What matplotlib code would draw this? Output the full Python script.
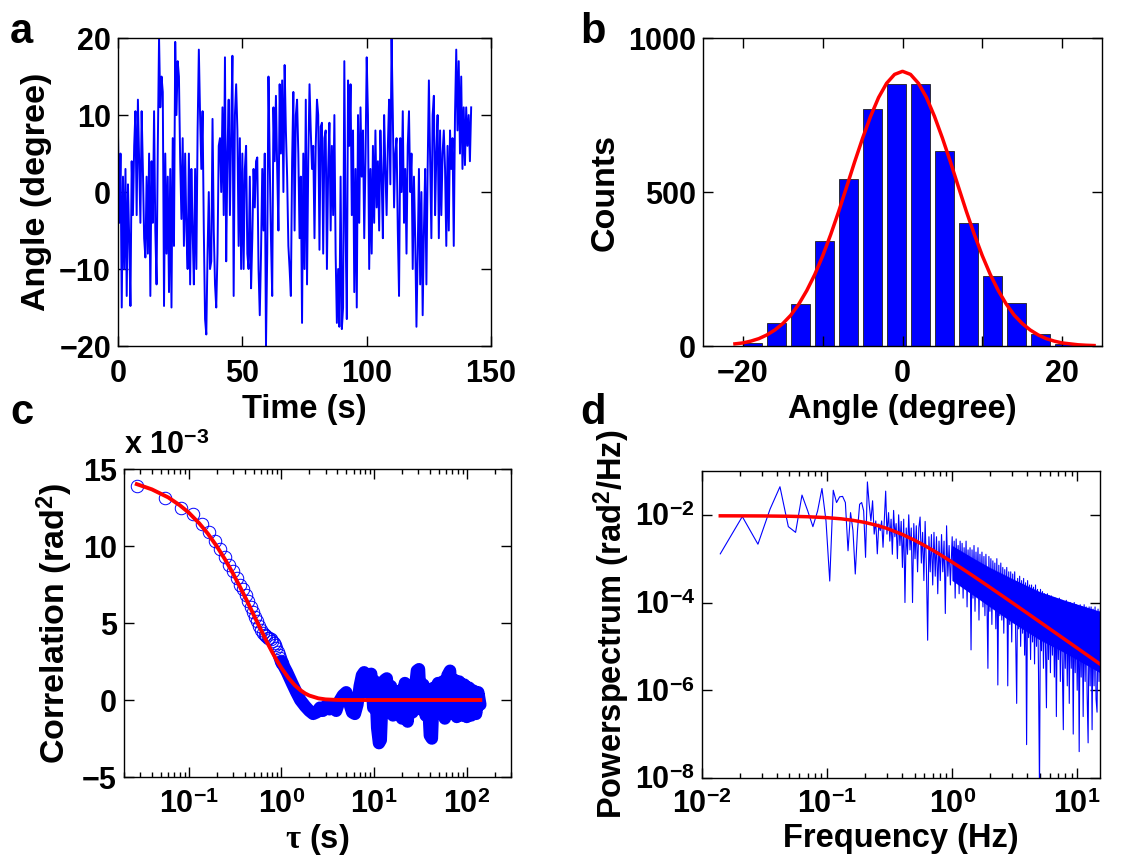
import numpy as np
import matplotlib
matplotlib.use('Agg')
import matplotlib.pyplot as plt
from matplotlib.ticker import NullLocator, NullFormatter, LogLocator

plt.rcParams['font.family'] = ['Liberation Sans', 'DejaVu Sans']
plt.rcParams['font.weight'] = 'bold'
plt.rcParams['axes.labelweight'] = 'bold'
plt.rcParams['mathtext.fontset'] = 'custom'
plt.rcParams['mathtext.rm'] = 'Liberation Sans:bold'
plt.rcParams['mathtext.bf'] = 'Liberation Sans:bold'
plt.rcParams['mathtext.it'] = 'Liberation Serif'

blue = '#0000ff'
red = '#ff0000'
tick_size = 22
xlabel_size = 23.5
ylabel_size = 24.5
letter_size = 30

# ---- panel a: angle trace (one reading every 0.5 s) ----
angle_step = 0.5
angle_trace = [
    7.5, -4, 5, -15, 2, -10, 3, -13.5, 1, -6,
    -14.8, 4, -3, 6, 10.5, -3, 12, 4, -4, 10.5,
    3, -6, -8.5, 2, -8, 5, -13.5, 4, -4, 10.5,
    -5, -12, 6, 20, 11, 15, 13, -14.8, 5, -8,
    2, -13, 3, -15, 7, -7, 19.5, 10, 17, 15,
    4, -3.5, 7, -7, 5, -5, -10, 5, -12, 3,
    -5, -12, 3, -10, 8, 18.5, 10, 3, 10.5, -5,
    -16.5, -18.5, -8, 0, -10, -9, 9.5, -5, -12, -15,
    -8, 6, 7, 0, 11, -3, 17.5, -9, 5, 12,
    -3, 8, 17.7, -13.5, 10, 14, 8, -7, 7, -10,
    5, -10, 3, 6, -8, -10, 2, -12.5, -6, 3,
    -2, 4, 4.5, -10, -16, -8, 3, -5, 5, -20,
    -8, 15, 4, -6, -13.5, 11, 4, 12.5, 3, -5,
    14, 5, 14.5, 0, 16.5, 8, 2, -7, -10, -13.5,
    4, 13, -5, 10, 12, 5, -6, 2, -17, 5,
    -10, 12, -12, 4, 14, 8, 3, 6, -6, 6,
    12, 10, -7.5, 8.5, 9, -8, 7, 8, -10, 3,
    9, -5, 6, -3, 10, -8, -17, -10, -17.5, 2,
    -17.8, -15, 17, -5, -16.5, 14.5, 6, 14, -3, 8,
    -13, 3, -15, 10, -4, 11, 2, 8, -6, 4,
    17.5, 10, -10, 3, -8, 6, -4, 8, -2, 4,
    -5, 8, 2, -6, 10, 3, -3, 6, 12, 1,
    20, 10, -2, 5, 7, -5, -13.5, 7, 0, 10.5,
    -4, 3, -8, 6, 10.5, 0, 5, -10, 2, -6,
    -17.5, -8, 3, -12, 0, -16, -5, 3, -12, 3,
    14.5, 4, -6, 10, 12.5, -3, 5, 10, -6, 8,
    -3, 5, 8, 3, -7, 6, -5, 8, 3, 7,
    -7, 10, 18.5, 8, 17, 5, 15, 3, 11, 3.5,
    11, 6, 10, 4, 11,
]

# ---- panel b: histogram + gaussian fit ----
bin_centers = [-18.75, -15.75, -12.75, -9.75, -6.75, -3.75, -0.75,
               2.25, 5.25, 8.25, 11.25, 14.25, 17.25, 20.25]
bin_counts = [11, 76, 138, 340, 541, 770, 851, 851, 634, 401, 228, 139, 40, 5]
gauss_x = list(range(-21, 25))
gauss_y = [7, 10, 16, 24, 36, 52, 73, 100, 136, 180, 232, 293, 362, 437, 517,
           598, 675, 746, 807, 853, 882, 892, 882, 853, 807, 746, 675, 598,
           517, 437, 362, 293, 232, 180, 136, 100, 73, 52, 36, 24, 16, 10, 7,
           4, 2.5, 1.5]

# ---- panel c: autocorrelation (units of 1e-3 rad^2) ----
tau_c = [0.0275, 0.055, 0.0825, 0.11, 0.1375, 0.165, 0.1925, 0.22, 0.2475,
         0.275, 0.3025, 0.33, 0.3575, 0.385, 0.4125, 0.44, 0.4675, 0.495,
         0.5225, 0.55, 0.5775, 0.605, 0.6325, 0.66, 0.6875, 0.715, 0.7425,
         0.77, 0.7975, 0.825, 0.8525, 0.88, 0.9075, 0.935, 0.9625, 0.99, 1.0175]
corr_c = [13.9, 13.15, 12.5, 12.05, 11.45, 10.9, 10.3, 9.8, 9.3,
          8.8, 8.4, 7.95, 7.5, 7.2, 6.8, 6.4, 6.05, 5.7,
          5.4, 5.1, 4.8, 4.55, 4.35, 4.25, 4.15, 4.05, 4.0,
          3.95, 3.85, 3.7, 3.55, 3.35, 3.15, 2.95, 2.75, 2.55, 2.4]
tau_blob = [1.0, 1.15, 1.3, 1.45, 1.6, 1.8, 2.0, 2.2, 2.4, 2.6, 2.8, 3.0, 3.3,
            3.6, 3.9, 4.2, 4.6, 5.0, 5.4, 5.8, 6.2, 6.6, 7.0, 7.4, 7.8, 8.3,
            8.8, 9.3, 9.8, 10.3, 10.8, 11.3, 11.8, 12.4, 13.0, 13.7, 14.4,
            15.2, 16.0, 17.0, 18.0, 19.0, 20.0, 21.5, 23.0, 24.5, 26.0, 27.5,
            29.0, 30.5, 32.0, 34.0, 36.0, 38.0, 40.0, 42.0, 44.0, 46.0, 49.0,
            52.0, 55.0, 58.0, 62.0, 66.0, 70.0, 74.0, 78.0, 83.0, 88.0, 94.0,
            100.0, 106.0, 112.0, 119.0, 126.0, 133.0, 140.0]
corr_blob = [2.5, 1.8, 1.1, 0.5, 0.0, -0.4, -0.7, -0.9, -0.8, -0.5, -0.7, -0.4,
             -0.6, -0.3, -0.7, -0.1, 0.3, 0.5, -0.2, -0.8, -0.9, -0.3, 0.9, 1.6,
             1.8, 0.5, 1.6, 1.7, -0.5, 1.2, -1.8, -2.8, -2.6, 0.8, 1.3, 1.4,
             -0.5, 0.9, -1.0, 0.2, -0.9, 0.6, -1.2, 1.1, -1.4, 0.9, -0.8, 0.6,
             1.9, 2.0, -0.6, 1.0, -1.0, 0.4, -2.3, -2.5, 0.8, -0.8, 1.1, -0.9,
             1.2, -1.2, 1.6, 1.9, -0.9, 1.3, -1.1, 1.2, -1.0, 1.0, -1.1, 0.8,
             -1.0, 0.6, -0.9, 0.5, -0.3]
tau_fit = [0.0275, 0.04, 0.06, 0.08, 0.1, 0.13, 0.16, 0.2, 0.25, 0.3, 0.35,
           0.4, 0.45, 0.5, 0.6, 0.7, 0.8, 0.9, 1.0, 1.2, 1.4, 1.6, 1.8, 2.0,
           2.5, 3.0, 4.0, 5.0, 10.0, 140.0]
corr_fit = [14.02, 13.68, 13.16, 12.65, 12.17, 11.47, 10.82, 10.0, 9.07, 8.22,
            7.45, 6.76, 6.13, 5.55, 4.57, 3.75, 3.08, 2.53, 2.08, 1.41, 0.95,
            0.64, 0.43, 0.29, 0.11, 0.04, 0.006, 0.0, 0.0, 0.0]

# ---- panel d: power spectrum (log10 of rad^2/Hz) ----
df = 0.007
psd_low_log = [-2.89, -2.04, -2.67, -1.87, -1.36, -2.27, -2.40, -1.55, -1.91, -2.27,
               -1.91, -1.40, -2.14, -3.51, -1.44, -1.72, -1.59, -1.58, -1.72, -2.82,
               -1.95, -2.36, -3.35, -2.36, -1.76, -1.72, -1.91, -2.97, -1.25, -1.76,
               -2.14, -1.68, -2.44, -2.14, -2.89, -2.21, -2.36, -2.14, -2.74, -2.10,
               -1.46, -2.44]
psd_mid_log = [-1.95, -2.6, -2.1, -2.9, -1.9, -2.5, -2.2, -3.0, -2.0, -2.7,
               -2.15, -3.2, -2.1, -4.0, -2.3, -2.9, -2.0, -2.8, -2.3, -4.0,
               -2.2, -3.0, -2.25, -3.3, -2.3, -2.05, -3.1, -2.4, -3.5, -2.15,
               -3.2, -4.86, -2.5, -3.3, -2.45, -3.6, -2.4, -3.4, -2.5, -3.8,
               -2.6, -3.5, -2.45, -3.3, -2.6, -4.25, -2.25, -3.4, -2.7, -3.6]
psd_high_log = [-2.5, -3.5, -2.6, -3.9, -2.55, -3.4, -2.7, -3.8, -2.6, -3.6,
                -2.65, -3.9, -2.75, -3.5, -2.6, -4.1, -2.8, -3.7, -2.75, -5.08,
                -2.8, -3.9, -2.7, -4.2, -2.85, -3.8, -2.75, -4.4, -2.9, -3.9,
                -2.85, -4.1, -2.95, -4.3, -2.9, -3.9, -5.5, -2.95, -4.2, -3.0,
                -4.5, -3.05, -4.0, -3.1, -4.6, -3.0, -5.88, -3.15, -4.3, -3.1,
                -4.4, -3.2, -4.7, -3.25, -4.2, -3.2, -5.9, -3.3, -4.5, -3.3,
                -4.9, -3.35, -4.4, -3.3, -4.8, -6.3, -3.45, -4.6, -3.4, -5.0,
                -3.5, -4.7, -3.45, -5.2, -3.55, -7.24, -3.5, -4.8, -3.6, -5.3,
                -3.6, -4.9, -3.65, -5.4, -3.6, -5.0, -3.7, -5.6, -8.3, -3.7,
                -5.1, -3.75, -5.5, -3.8, -5.0, -6.4, -3.8, -5.3, -3.85, -5.6,
                -3.85, -5.2, -3.9, -5.7, -3.9, -6.6, -3.95, -5.3, -3.9, -5.8,
                -3.95, -5.4, -6.9, -4.0, -5.5, -3.95, -5.9, -4.0, -6.3, -4.0,
                -5.5, -4.05, -7.0, -4.0, -5.6, -4.05, -6.0, -4.1, -7.4, -4.05,
                -5.7, -4.1, -6.6, -4.05, -5.8, -4.1, -6.1, -7.2, -4.1, -5.9,
                -4.1, -6.9, -4.15, -5.9, -4.1, -6.2, -6.5, -4.15, -5.8, -4.2]
band_f = [1.0, 1.5, 2.0, 3.0, 5.0, 8.0, 15.2]
band_hi_log = [-2.7, -3.0, -3.2, -3.45, -3.75, -3.95, -4.2]
band_lo_log = [-3.5, -3.85, -4.1, -4.45, -4.85, -5.15, -5.6]
fit_f = [0.014, 0.02, 0.03, 0.05, 0.07, 0.1, 0.13, 0.16, 0.2, 0.25, 0.3, 0.4,
         0.5, 0.6, 0.7, 0.8, 1.0, 1.3, 1.6, 2.0, 2.5, 3.0, 4.0, 5.0, 6.0, 8.0,
         10.0, 12.5, 15.2]
fit_log = [-2.023, -2.024, -2.026, -2.033, -2.044, -2.065, -2.092, -2.125,
           -2.173, -2.24, -2.309, -2.448, -2.579, -2.699, -2.808, -2.906,
           -3.079, -3.291, -3.464, -3.652, -3.842, -3.998, -4.246, -4.439,
           -4.597, -4.846, -5.040, -5.233, -5.403]


def style_axes(ax):
    ax.tick_params(which='both', direction='in', top=True, right=True,
                   labelsize=tick_size, width=1)
    ax.tick_params(which='major', length=7)
    ax.tick_params(which='minor', length=3.5)
    ax.tick_params(axis='x', pad=9)
    ax.tick_params(axis='y', pad=5)
    for s in ax.spines.values():
        s.set_linewidth(1.0)


fig = plt.figure(figsize=(11.25, 8.67), dpi=100)

# a
ax_a = fig.add_axes([0.1049, 0.6009, 0.3316, 0.3552])
t_a = np.arange(len(angle_trace)) * angle_step
ax_a.plot(t_a, angle_trace, color=blue, lw=1.4)
ax_a.set_xlim(0, 150)
ax_a.set_ylim(-20, 20)
ax_a.set_xticks([0, 50, 100, 150])
ax_a.set_yticks([-20, -10, 0, 10, 20])
ax_a.set_xlabel('Time (s)', fontsize=xlabel_size, labelpad=4)
ax_a.set_ylabel('Angle (degree)', fontsize=ylabel_size, labelpad=5)
style_axes(ax_a)

# b
ax_b = fig.add_axes([0.6249, 0.6009, 0.3547, 0.3552])
ax_b.bar(bin_centers, bin_counts, width=2.4, color=blue, edgecolor='#202020', linewidth=0.6)
ax_b.plot(gauss_x, gauss_y, color=red, lw=2.5)
ax_b.set_xlim(-25, 25)
ax_b.set_ylim(0, 1000)
ax_b.set_xticks([-20, -10, 0, 10, 20], ['\u221220', '', '0', '', '20'])
ax_b.set_yticks([0, 500, 1000])
ax_b.set_xlabel('Angle (degree)', fontsize=xlabel_size, labelpad=4)
ax_b.set_ylabel('Counts', fontsize=ylabel_size, labelpad=5)
style_axes(ax_b)

# c
ax_c = fig.add_axes([0.1102, 0.1038, 0.344, 0.3552])
ax_c.set_xscale('log')
ax_c.plot(tau_blob, corr_blob, color=blue, lw=9, solid_capstyle='round',
          solid_joinstyle='round')
ax_c.plot(tau_c, corr_c, 'o', mfc='none', mec=blue, ms=9, mew=0.7)
ax_c.plot(tau_fit, corr_fit, color=red, lw=2.8)
ax_c.set_xlim(0.02, 300)
ax_c.set_ylim(-5, 15)
ax_c.set_yticks([-5, 0, 5, 10, 15])
ax_c.set_xticks([0.1, 1, 10, 100], [r'$10^{-1}$', r'$10^{0}$', r'$10^{1}$', r'$10^{2}$'])
ax_c.xaxis.set_minor_locator(LogLocator(base=10, subs=range(2, 10)))
ax_c.xaxis.set_minor_formatter(NullFormatter())
ax_c.set_xlabel(r'$\tau$ (s)', fontsize=xlabel_size, labelpad=2)
ax_c.set_ylabel('Correlation (rad$^2$)', fontsize=ylabel_size, labelpad=5)
ax_c.text(0.0, 1.025, r'x 10$^{-3}$', transform=ax_c.transAxes,
          fontsize=tick_size, ha='left', va='bottom')
style_axes(ax_c)

# d
ax_d = fig.add_axes([0.624, 0.1027, 0.3538, 0.3541])
ax_d.set_xscale('log')
ax_d.set_yscale('log')
f_low = df * np.arange(2, 2 + len(psd_low_log))
f_mid = np.geomspace(0.31, 0.967, len(psd_mid_log))
f_high = np.geomspace(1.0, 15.2, len(psd_high_log))
f_all = np.concatenate([f_low, f_mid, f_high])
psd_all = 10.0 ** np.array(psd_low_log + psd_mid_log + psd_high_log)
ax_d.fill_between(band_f, 10.0 ** np.array(band_lo_log), 10.0 ** np.array(band_hi_log),
                  color=blue, lw=0)
ax_d.plot(f_all, psd_all, color=blue, lw=0.8)
ax_d.plot(fit_f, 10.0 ** np.array(fit_log), color=red, lw=2.5)
ax_d.set_xlim(0.01, 15.2)
ax_d.set_ylim(1e-8, 1e-1)
ax_d.set_xticks([0.01, 0.1, 1, 10], [r'$10^{-2}$', r'$10^{-1}$', r'$10^{0}$', r'$10^{1}$'])
ax_d.set_yticks([1e-8, 1e-6, 1e-4, 1e-2], [r'$10^{-8}$', r'$10^{-6}$', r'$10^{-4}$', r'$10^{-2}$'])
ax_d.xaxis.set_minor_locator(LogLocator(base=10, subs=range(2, 10)))
ax_d.xaxis.set_minor_formatter(NullFormatter())
ax_d.yaxis.set_minor_locator(NullLocator())
ax_d.set_xlabel('Frequency (Hz)', fontsize=xlabel_size, labelpad=2)
ax_d.set_ylabel('Powerspectrum (rad$^2$/Hz)', fontsize=23.5, labelpad=2)
style_axes(ax_d)

# panel letters
for letter, x, y in [('a', 0.009, 0.9504), ('b', 0.516, 0.9504),
                     ('c', 0.009, 0.5115), ('d', 0.516, 0.5115)]:
    fig.text(x, y, letter, fontsize=letter_size, fontweight='bold', va='baseline')

fig.savefig('out.png', dpi=100)
